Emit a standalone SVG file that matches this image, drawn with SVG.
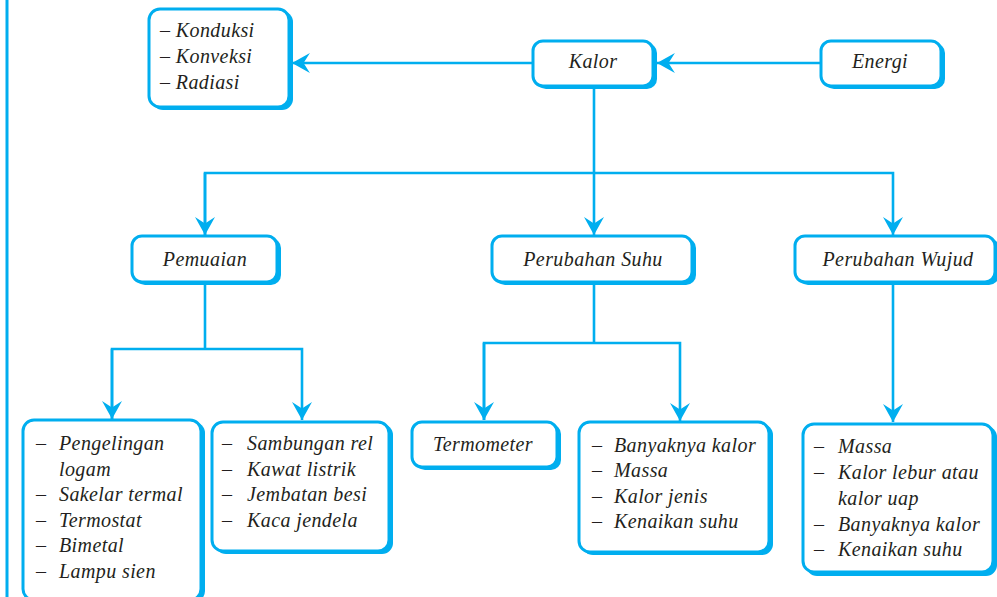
<svg xmlns="http://www.w3.org/2000/svg" width="997" height="597" viewBox="0 0 997 597">
<defs>
<style>
.sh{fill:#00aeef;}
.bx{fill:#ffffff;stroke:#00aeef;stroke-width:3;}
.t{font-family:"Liberation Serif","Times New Roman",serif;font-style:italic;font-size:20px;fill:#231f20;letter-spacing:0.4px;}
.c{fill:none;stroke:#00aeef;stroke-width:2.6;}
</style>
<marker id="ah" markerUnits="userSpaceOnUse" markerWidth="20" markerHeight="22" viewBox="-18 -10 19 20" refX="0" refY="0" orient="auto">
<path d="M0,0 L-17,-9.5 L-11,0 L-17,9.5 Z" fill="#00aeef"/>
</marker>
</defs>
<rect width="997" height="597" fill="#ffffff"/>
<line x1="7" y1="0" x2="7" y2="597" stroke="#00aeef" stroke-width="3"/>

<g id="connectors">
<line class="c" x1="821" y1="63" x2="657" y2="63" marker-end="url(#ah)"/>
<line class="c" x1="533" y1="63" x2="292" y2="63" marker-end="url(#ah)"/>
<line class="c" x1="594" y1="87" x2="594" y2="173"/>
<polyline class="c" points="205,235 205,173 893,173 893,235" marker-end="url(#ah)"/>
<line class="c" x1="205" y1="173" x2="205" y2="235" marker-end="url(#ah)"/>
<line class="c" x1="594" y1="173" x2="594" y2="235" marker-end="url(#ah)"/>
<line class="c" x1="205" y1="283" x2="205" y2="349"/>
<polyline class="c" points="112,419 112,349 302,349 302,420" marker-end="url(#ah)"/>
<line class="c" x1="112" y1="349" x2="112" y2="419" marker-end="url(#ah)"/>
<line class="c" x1="594" y1="283" x2="594" y2="343"/>
<polyline class="c" points="484,420 484,343 680,343 680,421" marker-end="url(#ah)"/>
<line class="c" x1="484" y1="343" x2="484" y2="420" marker-end="url(#ah)"/>
<line class="c" x1="893" y1="283" x2="893" y2="422" marker-end="url(#ah)"/>
</g>

<g id="n-perpindahan">
<rect class="sh" x="152" y="11" width="141" height="99" rx="11"/>
<rect class="bx" x="149" y="9" width="140" height="98" rx="11"/>
<text class="t" x="160" y="37">– Konduksi</text>
<text class="t" x="160" y="63">– Konveksi</text>
<text class="t" x="160" y="89">– Radiasi</text>
</g>

<g id="n-kalor">
<rect class="sh" x="536" y="43" width="121" height="46" rx="10"/>
<rect class="bx" x="533" y="41" width="120" height="45" rx="10"/>
<text class="t" x="593" y="68" text-anchor="middle">Kalor</text>
</g>

<g id="n-energi">
<rect class="sh" x="824" y="43" width="121" height="46" rx="10"/>
<rect class="bx" x="821" y="41" width="120" height="45" rx="10"/>
<text class="t" x="880" y="68" text-anchor="middle">Energi</text>
</g>

<g id="n-pemuaian">
<rect class="sh" x="135" y="238" width="146" height="47" rx="10"/>
<rect class="bx" x="132" y="236" width="145" height="46" rx="10"/>
<text class="t" x="205" y="266" text-anchor="middle">Pemuaian</text>
</g>

<g id="n-suhu">
<rect class="sh" x="495" y="238" width="201" height="47" rx="10"/>
<rect class="bx" x="492" y="236" width="200" height="46" rx="10"/>
<text class="t" x="593" y="266" text-anchor="middle">Perubahan Suhu</text>
</g>

<g id="n-wujud">
<rect class="sh" x="798" y="238" width="201" height="47" rx="10"/>
<rect class="bx" x="795" y="236" width="200" height="46" rx="10"/>
<text class="t" x="898" y="266" text-anchor="middle">Perubahan Wujud</text>
</g>

<g id="n-pemuaian-zat-padat">
<rect class="sh" x="26" y="422" width="179" height="180" rx="11"/>
<rect class="bx" x="23" y="420" width="178" height="180" rx="11"/>
<text class="t" x="36" y="450">–</text><text class="t" x="59" y="450">Pengelingan</text>
<text class="t" x="59" y="476">logam</text>
<text class="t" x="36" y="501">–</text><text class="t" x="59" y="501">Sakelar termal</text>
<text class="t" x="36" y="527">–</text><text class="t" x="59" y="527">Termostat</text>
<text class="t" x="36" y="552">–</text><text class="t" x="59" y="552">Bimetal</text>
<text class="t" x="36" y="578">–</text><text class="t" x="59" y="578">Lampu sien</text>
</g>

<g id="n-sambungan">
<rect class="sh" x="215" y="424" width="178" height="130" rx="11"/>
<rect class="bx" x="212" y="422" width="177" height="129" rx="11"/>
<text class="t" x="222" y="450">–</text><text class="t" x="247" y="450">Sambungan rel</text>
<text class="t" x="222" y="476">–</text><text class="t" x="247" y="476">Kawat listrik</text>
<text class="t" x="222" y="501">–</text><text class="t" x="247" y="501">Jembatan besi</text>
<text class="t" x="222" y="527">–</text><text class="t" x="247" y="527">Kaca jendela</text>
</g>

<g id="n-termometer">
<rect class="sh" x="415" y="424" width="146" height="46" rx="10"/>
<rect class="bx" x="412" y="422" width="145" height="45" rx="10"/>
<text class="t" x="433" y="451">Termometer</text>
</g>

<g id="n-faktor-suhu">
<rect class="sh" x="582" y="424" width="191" height="131" rx="11"/>
<rect class="bx" x="579" y="422" width="190" height="130" rx="11"/>
<text class="t" x="592" y="452">–</text><text class="t" x="614" y="452">Banyaknya kalor</text>
<text class="t" x="592" y="477">–</text><text class="t" x="614" y="477">Massa</text>
<text class="t" x="592" y="503">–</text><text class="t" x="614" y="503">Kalor jenis</text>
<text class="t" x="592" y="528">–</text><text class="t" x="614" y="528">Kenaikan suhu</text>
</g>

<g id="n-faktor-wujud">
<rect class="sh" x="806" y="426" width="191" height="150" rx="11"/>
<rect class="bx" x="803" y="424" width="190" height="148" rx="11"/>
<text class="t" x="814" y="453">–</text><text class="t" x="838" y="453">Massa</text>
<text class="t" x="814" y="479">–</text><text class="t" x="838" y="479">Kalor lebur atau</text>
<text class="t" x="838" y="505">kalor uap</text>
<text class="t" x="814" y="531">–</text><text class="t" x="838" y="531">Banyaknya kalor</text>
<text class="t" x="814" y="556">–</text><text class="t" x="838" y="556">Kenaikan suhu</text>
</g>
</svg>
